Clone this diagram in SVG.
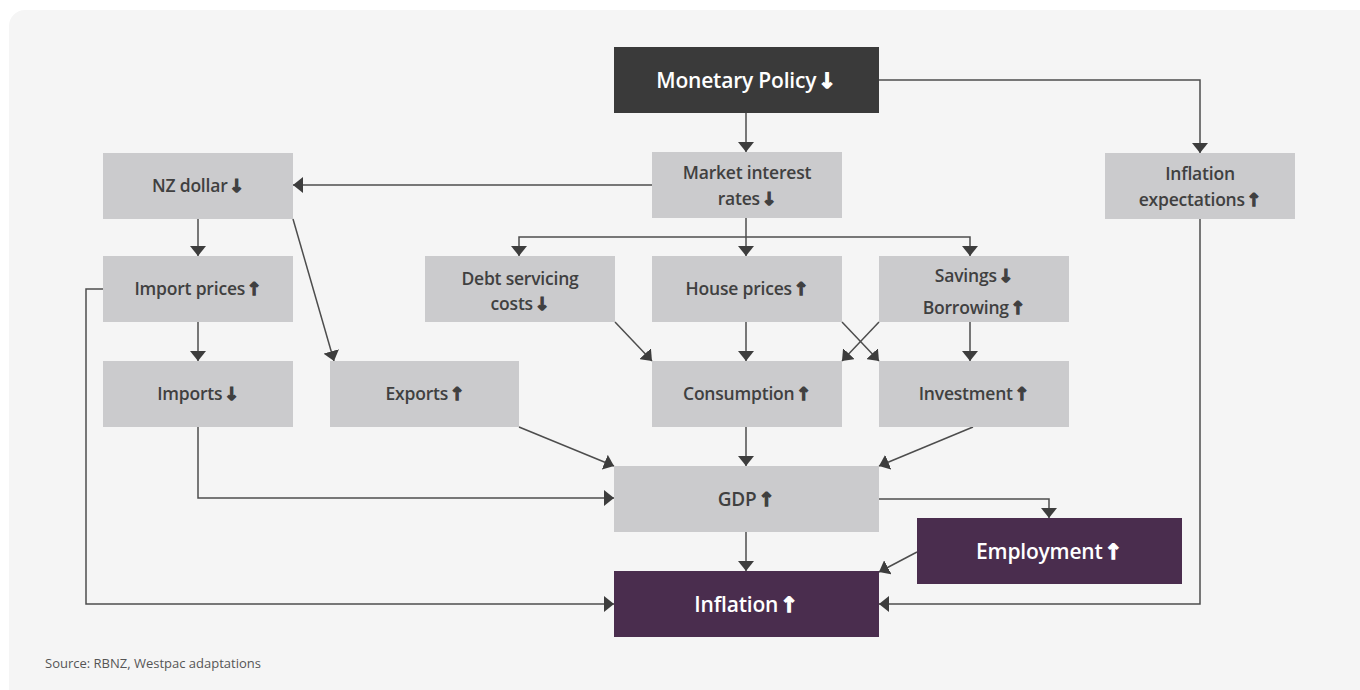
<svg xmlns="http://www.w3.org/2000/svg" width="1360" height="690" viewBox="0 0 1360 690">
  <style>
    .box { fill: #cbcbcd; }
    .dark { fill: #3a3a3a; }
    .purple { fill: #4a2d4e; }
    .lbl { font-family: "Open Sans", "Liberation Sans", sans-serif; font-weight: 600; font-size: 17.5px; fill: #404040; text-anchor: middle; letter-spacing: -0.2px; }
    .big { font-size: 21px; fill: #ffffff; }
    .arr { font-family: "DejaVu Sans", sans-serif; font-weight: 700; stroke: #404040; stroke-width: 1.3px; }
    .big .arr { stroke: #ffffff; }
    .conn { fill: none; stroke: #4d4d4d; stroke-width: 1.5; }
    .src { font-family: "Open Sans", "Liberation Sans", sans-serif; font-size: 13px; fill: #555555; }
  </style>
  <defs>
    <marker id="head" viewBox="0 0 10 16" refX="10" refY="8" markerWidth="10" markerHeight="16" markerUnits="userSpaceOnUse" orient="auto">
      <path d="M0,0 L10,8 L0,16 Z" fill="#3d3d3d"/>
    </marker>
  </defs>

  <!-- background panel -->
  <rect width="1360" height="690" fill="#ffffff"/>
  <rect x="9" y="10" width="1370" height="700" rx="16" fill="#f5f5f5"/>

  <!-- connectors -->
  <g id="connectors" class="conn" marker-end="url(#head)">
    <path d="M746,113 V152"/>
    <path d="M879,80 H1200 V153"/>
    <path d="M652,185 H293"/>
    <path d="M746,218 V256"/>
    <path d="M746,237 H519 V256"/>
    <path d="M746,237 H970 V256"/>
    <path d="M198,219 V256"/>
    <path d="M293,219 L334,361"/>
    <path d="M198,322 V361"/>
    <path d="M103,289 H86 V604 H614"/>
    <path d="M615,322 L652,361"/>
    <path d="M746,322 V361"/>
    <path d="M842,322 L879,361"/>
    <path d="M879,322 L842,361"/>
    <path d="M970,322 V361"/>
    <path d="M198,427 V498 H614"/>
    <path d="M519,427 L614,466"/>
    <path d="M746,427 V466"/>
    <path d="M973,427 L879,466"/>
    <path d="M879,499 H1049 V518"/>
    <path d="M746,532 V571"/>
    <path d="M917,552 L879,572"/>
    <path d="M1200,219 V604 H879"/>
  </g>

  <g id="monetary-policy">
    <rect class="dark" x="614" y="47" width="265" height="66"/>
    <text class="lbl big" x="746" y="88">Monetary Policy<tspan class="arr" dx="2">↓</tspan></text>
  </g>
  <g id="market-rates">
    <rect class="box" x="652" y="152" width="190" height="66"/>
    <text class="lbl" x="747" y="179">Market interest</text>
    <text class="lbl" x="747" y="205">rates<tspan class="arr" dx="2">↓</tspan></text>
  </g>
  <g id="nz-dollar">
    <rect class="box" x="103" y="153" width="190" height="66"/>
    <text class="lbl" x="198" y="192">NZ dollar<tspan class="arr" dx="2">↓</tspan></text>
  </g>
  <g id="inflation-expectations">
    <rect class="box" x="1105" y="153" width="190" height="66"/>
    <text class="lbl" x="1200" y="180">Inflation</text>
    <text class="lbl" x="1200" y="206">expectations<tspan class="arr" dx="2">↑</tspan></text>
  </g>
  <g id="import-prices">
    <rect class="box" x="103" y="256" width="190" height="66"/>
    <text class="lbl" x="198" y="295">Import prices<tspan class="arr" dx="2">↑</tspan></text>
  </g>
  <g id="debt-servicing">
    <rect class="box" x="425" y="256" width="190" height="66"/>
    <text class="lbl" x="520" y="285">Debt servicing</text>
    <text class="lbl" x="520" y="310">costs<tspan class="arr" dx="2">↓</tspan></text>
  </g>
  <g id="house-prices">
    <rect class="box" x="652" y="256" width="190" height="66"/>
    <text class="lbl" x="747" y="295">House prices<tspan class="arr" dx="2">↑</tspan></text>
  </g>
  <g id="savings-borrowing">
    <rect class="box" x="879" y="256" width="190" height="66"/>
    <text class="lbl" x="974" y="282">Savings<tspan class="arr" dx="2">↓</tspan></text>
    <text class="lbl" x="974" y="314">Borrowing<tspan class="arr" dx="2">↑</tspan></text>
  </g>
  <g id="imports">
    <rect class="box" x="103" y="361" width="190" height="66"/>
    <text class="lbl" x="198" y="400">Imports<tspan class="arr" dx="2">↓</tspan></text>
  </g>
  <g id="exports">
    <rect class="box" x="330" y="361" width="189" height="66"/>
    <text class="lbl" x="425" y="400">Exports<tspan class="arr" dx="2">↑</tspan></text>
  </g>
  <g id="consumption">
    <rect class="box" x="652" y="361" width="190" height="66"/>
    <text class="lbl" x="747" y="400">Consumption<tspan class="arr" dx="2">↑</tspan></text>
  </g>
  <g id="investment">
    <rect class="box" x="879" y="361" width="190" height="66"/>
    <text class="lbl" x="974" y="400">Investment<tspan class="arr" dx="2">↑</tspan></text>
  </g>
  <g id="gdp">
    <rect class="box" x="614" y="466" width="265" height="66"/>
    <text class="lbl" x="746" y="506" style="font-size:19px">GDP<tspan class="arr" dx="2">↑</tspan></text>
  </g>
  <g id="employment">
    <rect class="purple" x="917" y="518" width="265" height="66"/>
    <text class="lbl big" x="1049" y="559">Employment<tspan class="arr" dx="2">↑</tspan></text>
  </g>
  <g id="inflation">
    <rect class="purple" x="614" y="571" width="265" height="66"/>
    <text class="lbl big" x="746" y="612">Inflation<tspan class="arr" dx="2">↑</tspan></text>
  </g>

  <text class="src" x="45" y="668">Source: RBNZ, Westpac adaptations</text>
</svg>
